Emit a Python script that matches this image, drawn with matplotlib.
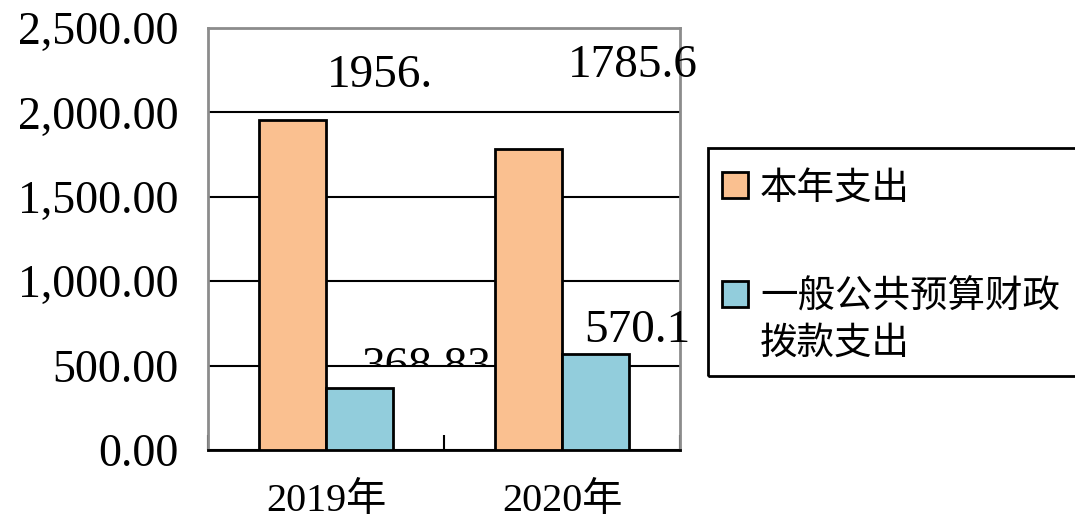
import matplotlib
matplotlib.use("Agg")
import matplotlib.pyplot as plt
from matplotlib.patches import Rectangle
from matplotlib.ticker import FuncFormatter, FixedLocator
import numpy as np

plt.rcParams['font.family'] = ['Liberation Serif', 'Noto Sans CJK SC']

# data
years = ["2019年", "2020年"]
series_names = ["本年支出", "一般公共预算财政拨款支出"]
spend_total = [1956.0, 1785.6]
spend_grant = [368.83, 570.1]
label_total = ["1956.", "1785.6"]
label_grant = ["368.83", "570.1"]

colors = ["#FAC090", "#92CDDC"]
# odd label placement as seen in the source (offset from bar centre/top)
dx_total = [0.371, 0.443]
dy_total = [197, 427]
dx_grant = [0.286, 0.176]
dy_grant = [52, 71]

fig = plt.figure(figsize=(10.75, 5.22), dpi=100)
ax = fig.add_axes([0.1935, 0.1379, 0.4391, 0.8084])

x = np.arange(len(years))
w = 0.284
b1 = ax.bar(x - w / 2, spend_total, w, color=colors[0], edgecolor="black",
            linewidth=2, zorder=3)
b2 = ax.bar(x + w / 2, spend_grant, w, color=colors[1], edgecolor="black",
            linewidth=2, zorder=3)

ax.set_xlim(-0.5, 1.5)
ax.set_ylim(0, 2500)
ax.set_yticks(np.arange(0, 2501, 500))
ax.yaxis.set_major_formatter(FuncFormatter(lambda v, p: f"{v:,.2f}"))
ax.set_xticks(x)
ax.set_xticklabels(years)
ax.xaxis.set_minor_locator(FixedLocator([-0.5, 0.5, 1.5]))

ax.tick_params(axis="y", length=0, pad=21, labelsize=33)
ax.tick_params(axis="x", which="major", length=0, pad=24, labelsize=29)
ax.tick_params(axis="x", which="minor", direction="in", length=11,
               width=1.5, color="black")

ax.yaxis.grid(True, color="black", linewidth=1.5)
ax.set_axisbelow(True)
for s in ["left", "top", "right"]:
    ax.spines[s].set_color("#8C8C8C")
    ax.spines[s].set_linewidth(2)
ax.spines["bottom"].set_color("black")
ax.spines["bottom"].set_linewidth(2)

# data labels
for i in range(len(years)):
    ax.text(x[i] - w / 2 + dx_total[i], spend_total[i] + dy_total[i],
            label_total[i], ha="center", va="baseline", fontsize=34,
            clip_on=False, zorder=5)
for i in range(len(years)):
    t = ax.text(x[i] + w / 2 + dx_grant[i], spend_grant[i] + dy_grant[i],
                label_grant[i], ha="center", va="baseline", fontsize=34,
                clip_on=False, zorder=5)
    if i == 0:
        # the first label is cut off at the 500 gridline in the source
        clip = Rectangle((-0.5, 500), 2, 3000, transform=ax.transData)
        t.set_clip_on(True)
        t.set_clip_path(clip)

# legend drawn by hand (frame runs past the right edge)
fig.add_artist(Rectangle((708 / 1075, 1 - 376 / 522), 0.4, (376 - 148) / 522,
                         transform=fig.transFigure, fill=False,
                         edgecolor="black", linewidth=2))
sq = 26
rows = [185, 294]
for name, col, yc in zip(series_names, colors, rows):
    fig.add_artist(Rectangle((722 / 1075, 1 - (yc + sq / 2) / 522),
                             sq / 1075, sq / 522, transform=fig.transFigure,
                             facecolor=col, edgecolor="black", linewidth=2))
    text = name if len(name) <= 8 else name[:8] + "\n" + name[8:]
    fig.text(760 / 1075, 1 - (yc - 16) / 522, text, ha="left", va="top",
             fontsize=27, family=['Noto Sans CJK SC'], linespacing=1.22)

fig.savefig("out.png", dpi=100)
